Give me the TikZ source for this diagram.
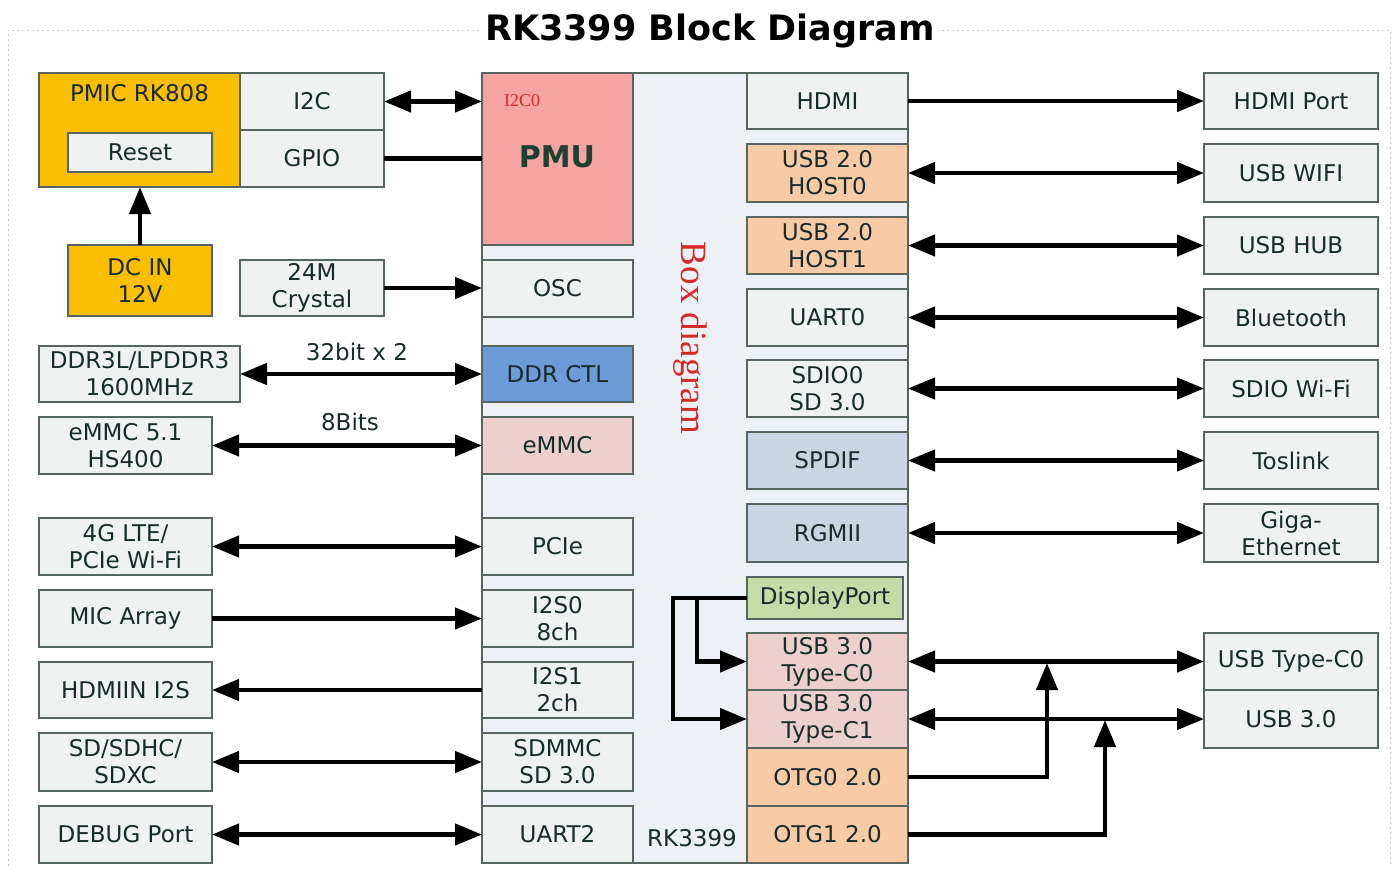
\documentclass[tikz,border=0pt]{standalone}
\usepackage{fontspec}
\setmainfont{DejaVu Sans}
\newfontfamily\serifred{Liberation Serif}
\usetikzlibrary{arrows.meta,calc}
\definecolor{bord}{HTML}{56665F}
\definecolor{txt}{HTML}{182B2B}
\definecolor{gfill}{HTML}{F0F2F2}
\definecolor{orng}{HTML}{FBBF00}
\definecolor{chipbg}{HTML}{EDF1F5}
\definecolor{pmuc}{HTML}{F5A3A3}
\definecolor{ddrc}{HTML}{6C9BD8}
\definecolor{pinkc}{HTML}{ECD0D0}
\definecolor{peach}{HTML}{F8CBA6}
\definecolor{steel}{HTML}{C9D5E3}
\definecolor{greenc}{HTML}{C6DCA8}
\definecolor{redt}{HTML}{D42A2A}
\definecolor{pmut}{HTML}{1E4030}
\newcommand\bx[7][]{\node[box,#1,anchor=north west,minimum width={(#5)-(#3)},minimum height={(#6)-(#4)}] (#2) at (#3,#4) {#7};}
\tikzset{
  box/.style={draw=bord, line width=1.5pt, fill=gfill, inner sep=0pt, outer sep=0pt,
    align=center, text=txt, font=\fontsize{23}{27}\selectfont},
  obox/.style={fill=orng},
  pbox/.style={fill=pinkc},
  hbox/.style={fill=peach},
  sbox/.style={fill=steel},
  con/.style={line width=4.5pt, draw=black},
  arr/.style={con, -{Triangle[length=27pt,width=21pt]}},
  dbl/.style={con, {Triangle[length=27pt,width=21pt]}-{Triangle[length=27pt,width=21pt]}},
  lbl/.style={text=txt, font=\fontsize{23}{27}\selectfont, inner sep=0pt},
}
\begin{document}
\begin{tikzpicture}[x=1pt,y=-1pt]
\useasboundingbox (0,0) rectangle (1397,871);
% faint page frame
\draw[gray!40, line width=1pt, dash pattern=on 2pt off 3pt] (8,866) -- (8,30) -- (1390,30) -- (1390,866);
\node[fill=white, inner sep=3pt, text=black, font=\bfseries\fontsize{35}{40}\selectfont] (title) at (710,31) {RK3399 Block Diagram};

% left externals
\bx[obox]{pmic}{39}{73}{240}{187}{}
\node[lbl] (pmict) at (139.5,93) {PMIC RK808};
\bx{reset}{68}{133}{212}{172}{Reset}
\bx{i2c}{240}{73}{384}{130}{I2C}
\bx{gpio}{240}{130}{384}{187}{GPIO}
\bx[obox]{dcin}{68}{245}{212}{316}{DC IN\\12V}
\bx{xtal}{240}{260}{384}{316}{24M\\Crystal}
\bx{ddr}{39}{346}{240}{402}{DDR3L/LPDDR3\\1600MHz}
\bx{emmcx}{39}{417}{212}{474}{eMMC 5.1\\HS400}
\bx{lte}{39}{518}{212}{575}{4G LTE/\\PCIe Wi-Fi}
\bx{mic}{39}{590}{212}{647}{MIC Array}
\bx{hdmiin}{39}{662}{212}{718}{HDMIIN I2S}
\bx{sd}{39}{733}{212}{791}{SD/SDHC/\\SDXC}
\bx{dbg}{39}{806}{212}{863}{DEBUG Port}

% chip
\bx[fill=chipbg]{chip}{482}{73}{908}{863}{}
\bx[fill=pmuc]{pmu}{482}{73}{633}{245}{}
\node[text=redt, font=\serifred\fontsize{18}{20}\selectfont, inner sep=0pt] (i2c0) at (522,101) {I2C0};
\node[text=pmut, font=\bfseries\fontsize{30}{34}\selectfont, inner sep=0pt] (pmut) at (557,157) {PMU};
\bx{osc}{482}{260}{633}{317}{OSC}
\bx[fill=ddrc]{ddrctl}{482}{346}{633}{402}{DDR CTL}
\bx[pbox]{emmc}{482}{417}{633}{474}{eMMC}
\bx{pcie}{482}{518}{633}{575}{PCIe}
\bx{i2s0}{482}{590}{633}{647}{I2S0\\8ch}
\bx{i2s1}{482}{662}{633}{718}{I2S1\\2ch}
\bx{sdmmc}{482}{733}{633}{791}{SDMMC\\SD 3.0}
\bx{uart2}{482}{806}{633}{863}{UART2}
\node[text=redt, font=\serifred\fontsize{37}{40}\selectfont, rotate=-90, inner sep=0pt] (boxd) at (690,338) {Box\ diagram};
\node[lbl] (chipname) at (692,838) {RK3399};

\bx{hdmi}{747}{73}{908}{129}{HDMI}
\bx[hbox]{host0}{747}{144}{908}{202}{USB 2.0\\HOST0}
\bx[hbox]{host1}{747}{217}{908}{274}{USB 2.0\\HOST1}
\bx{uart0}{747}{289}{908}{346}{UART0}
\bx{sdio0}{747}{360}{908}{417}{SDIO0\\SD 3.0}
\bx[sbox]{spdif}{747}{432}{908}{489}{SPDIF}
\bx[sbox]{rgmii}{747}{504}{908}{562}{RGMII}
\bx[fill=greenc]{dp}{747}{577}{903}{619}{DisplayPort}
\bx[pbox]{tc0}{747}{633}{908}{690}{USB 3.0\\Type-C0}
\bx[pbox]{tc1}{747}{690}{908}{748}{USB 3.0\\Type-C1}
\bx[hbox]{otg0}{747}{748}{908}{806}{OTG0 2.0}
\bx[hbox]{otg1}{747}{806}{908}{863}{OTG1 2.0}

% right externals
\bx{hdmip}{1204}{73}{1378}{129}{HDMI Port}
\bx{uwifi}{1204}{144}{1378}{202}{USB WIFI}
\bx{uhub}{1204}{217}{1378}{274}{USB HUB}
\bx{bt}{1204}{289}{1378}{346}{Bluetooth}
\bx{sdiowifi}{1204}{360}{1378}{417}{SDIO Wi-Fi}
\bx{tos}{1204}{432}{1378}{489}{Toslink}
\bx{giga}{1204}{504}{1378}{562}{Giga-\\Ethernet}
\bx{utc0}{1204}{633}{1378}{690}{USB Type-C0}
\bx{u30}{1204}{690}{1378}{748}{USB 3.0}

% connectors left
\draw[dbl] (i2c.east) -- (i2c.east -| pmu.west);
\draw[con] (gpio.east) -- (gpio.east -| pmu.west);
\draw[arr] (dcin.north) -- (dcin.north |- pmic.south);
\draw[arr] (xtal.east) -- (xtal.east -| osc.west);
\draw[dbl] (ddr.east) -- (ddr.east -| ddrctl.west);
\node[lbl] (l32) at (357,352) {32bit x 2};
\draw[dbl] (emmcx.east) -- (emmcx.east -| emmc.west);
\node[lbl] (l8) at (350,422) {8Bits};
\draw[dbl] (lte.east) -- (lte.east -| pcie.west);
\draw[arr] (mic.east) -- (mic.east -| i2s0.west);
\draw[arr] (i2s1.west) -- (i2s1.west -| hdmiin.east);
\draw[dbl] (sd.east) -- (sd.east -| sdmmc.west);
\draw[dbl] (dbg.east) -- (dbg.east -| uart2.west);

% connectors right
\draw[arr] (hdmi.east) -- (hdmi.east -| hdmip.west);
\draw[dbl] (host0.east) -- (host0.east -| uwifi.west);
\draw[dbl] (host1.east) -- (host1.east -| uhub.west);
\draw[dbl] (uart0.east) -- (uart0.east -| bt.west);
\draw[dbl] (sdio0.east) -- (sdio0.east -| sdiowifi.west);
\draw[dbl] (spdif.east) -- (spdif.east -| tos.west);
\draw[dbl] (rgmii.east) -- (rgmii.east -| giga.west);
\draw[dbl] (tc0.east) -- (tc0.east -| utc0.west);
\draw[dbl] (tc1.east) -- (tc1.east -| u30.west);

% DisplayPort routing
\coordinate (dpl) at (673,598);
\coordinate (dpj) at (697,598);
\draw[arr] (dp.west) -- (dpl) |- (tc1.west);
\draw[arr] (dpj) |- (tc0.west);

% OTG routing
\coordinate (j0) at (1047,663);
\coordinate (j1) at (1105,720);
\draw[arr] (otg0.east) -| (j0);
\draw[arr] (otg1.east) -| (j1);
\end{tikzpicture}
\end{document}
